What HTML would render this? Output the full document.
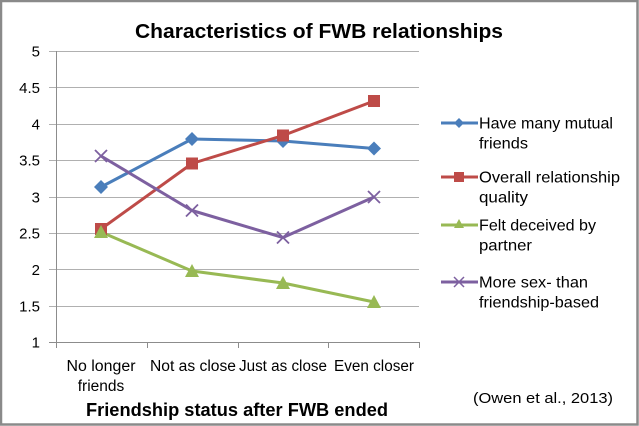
<!DOCTYPE html>
<html><head><meta charset="utf-8"><style>
html,body{margin:0;padding:0;background:#fff;}
svg{display:block;}
text{font-family:"Liberation Sans",sans-serif;fill:#000;}
</style></head><body>
<svg width="639" height="426" viewBox="0 0 639 426" xmlns="http://www.w3.org/2000/svg">
<rect x="0" y="0" width="639" height="426" fill="#fff"/>
<rect x="1" y="1" width="636.5" height="423.5" fill="none" stroke="#8a8a8a" stroke-width="2.5"/>
<text x="319" y="38" font-size="20" font-weight="bold" text-anchor="middle" textLength="368" lengthAdjust="spacingAndGlyphs">Characteristics of FWB relationships</text>
<!-- gridlines -->
<g stroke="#b0b0b0" stroke-width="1">
<line x1="49" y1="51.5" x2="419" y2="51.5"/>
<line x1="49" y1="87.5" x2="419" y2="87.5"/>
<line x1="49" y1="124.5" x2="419" y2="124.5"/>
<line x1="49" y1="160.5" x2="419" y2="160.5"/>
<line x1="49" y1="197.5" x2="419" y2="197.5"/>
<line x1="49" y1="233.5" x2="419" y2="233.5"/>
<line x1="49" y1="269.5" x2="419" y2="269.5"/>
<line x1="49" y1="306.5" x2="419" y2="306.5"/>
</g>
<g stroke="#8c8c8c" stroke-width="1">
<line x1="56.5" y1="51" x2="56.5" y2="342"/>
<line x1="49" y1="342.5" x2="419" y2="342.5"/>
<line x1="56.5" y1="342" x2="56.5" y2="348"/>
<line x1="147.5" y1="342" x2="147.5" y2="348"/>
<line x1="238.5" y1="342" x2="238.5" y2="348"/>
<line x1="328.5" y1="342" x2="328.5" y2="348"/>
<line x1="419.5" y1="342" x2="419.5" y2="348"/>
</g>
<g font-size="15" text-anchor="end">
<text x="40" y="56.5">5</text>
<text x="40" y="93">4.5</text>
<text x="40" y="129.5">4</text>
<text x="40" y="165.5">3.5</text>
<text x="40" y="202.5">3</text>
<text x="40" y="238.5">2.5</text>
<text x="40" y="275">2</text>
<text x="40" y="311.5">1.5</text>
<text x="40" y="347.5">1</text>
</g>
<g font-size="15.5" text-anchor="middle">
<text x="101" y="371" textLength="69" lengthAdjust="spacingAndGlyphs">No longer</text>
<text x="101" y="391">friends</text>
<text x="193" y="371" textLength="86" lengthAdjust="spacingAndGlyphs">Not as close</text>
<text x="283" y="371" textLength="88" lengthAdjust="spacingAndGlyphs">Just as close</text>
<text x="374" y="371" textLength="80" lengthAdjust="spacingAndGlyphs">Even closer</text>
</g>
<text x="237" y="416" font-size="18" font-weight="bold" text-anchor="middle" textLength="302" lengthAdjust="spacingAndGlyphs">Friendship status after FWB ended</text>
<text x="543" y="403" font-size="15" text-anchor="middle" textLength="140" lengthAdjust="spacingAndGlyphs">(Owen et al., 2013)</text>

<polyline points="101,187 192,139 283,141 374,148.5" fill="none" stroke="#4A7EBB" stroke-width="3" stroke-linejoin="round"/>
<polyline points="101,229 192,163.5 283,135.5 374,101" fill="none" stroke="#BE4B48" stroke-width="3" stroke-linejoin="round"/>
<polyline points="101,232 192,271 283,283 374,302" fill="none" stroke="#98B954" stroke-width="3" stroke-linejoin="round"/>
<polyline points="101,156 192,210.5 283,237.5 374,197" fill="none" stroke="#7D60A0" stroke-width="3" stroke-linejoin="round"/>

<g fill="#4A7EBB">
<polygon points="101,180 108,187 101,194 94,187"/>
<polygon points="192,132 199,139 192,146 185,139"/>
<polygon points="283,134 290,141 283,148 276,141"/>
<polygon points="374,141.5 381,148.5 374,155.5 367,148.5"/>
</g>
<g fill="#BE4B48">
<rect x="95" y="223" width="12" height="12"/>
<rect x="186" y="157.5" width="12" height="12"/>
<rect x="277" y="129.5" width="12" height="12"/>
<rect x="368" y="95" width="12" height="12"/>
</g>
<g fill="#98B954">
<polygon points="101,225 108,238 94,238"/>
<polygon points="192,264 199,277 185,277"/>
<polygon points="283,276 290,289 276,289"/>
<polygon points="374,295 381,308 367,308"/>
</g>
<g stroke="#7D60A0" stroke-width="1.8">
<path d="M95,150 L107,162 M107,150 L95,162"/>
<path d="M186,204.5 L198,216.5 M198,204.5 L186,216.5"/>
<path d="M277,231.5 L289,243.5 M289,231.5 L277,243.5"/>
<path d="M368,191 L380,203 M380,191 L368,203"/>
</g>

<!-- legend -->
<line x1="441" y1="123" x2="478" y2="123" stroke="#4A7EBB" stroke-width="3"/>
<polygon points="459,118 464,123 459,128 454,123" fill="#4A7EBB"/>
<line x1="441" y1="177" x2="478" y2="177" stroke="#BE4B48" stroke-width="3"/>
<rect x="454" y="172" width="10" height="10" fill="#BE4B48"/>
<line x1="441" y1="225" x2="478" y2="225" stroke="#98B954" stroke-width="3"/>
<polygon points="459,219 464,228 454,228" fill="#98B954"/>
<line x1="441" y1="282" x2="478" y2="282" stroke="#7D60A0" stroke-width="3"/>
<path d="M454,277 L464,287 M464,277 L454,287" stroke="#7D60A0" stroke-width="1.5"/>
<g font-size="16">
<text x="479" y="128.5" textLength="134" lengthAdjust="spacingAndGlyphs">Have many mutual</text>
<text x="479" y="148.5" textLength="49" lengthAdjust="spacingAndGlyphs">friends</text>
<text x="479" y="182.5" textLength="141" lengthAdjust="spacingAndGlyphs">Overall relationship</text>
<text x="479" y="202.5" textLength="49" lengthAdjust="spacingAndGlyphs">quality</text>
<text x="479" y="230.5" textLength="117" lengthAdjust="spacingAndGlyphs">Felt deceived by</text>
<text x="479" y="250.5" textLength="53" lengthAdjust="spacingAndGlyphs">partner</text>
<text x="479" y="287.5" textLength="109" lengthAdjust="spacingAndGlyphs">More sex- than</text>
<text x="479" y="307.5" textLength="120" lengthAdjust="spacingAndGlyphs">friendship-based</text>
</g>
</svg>
</body></html>
